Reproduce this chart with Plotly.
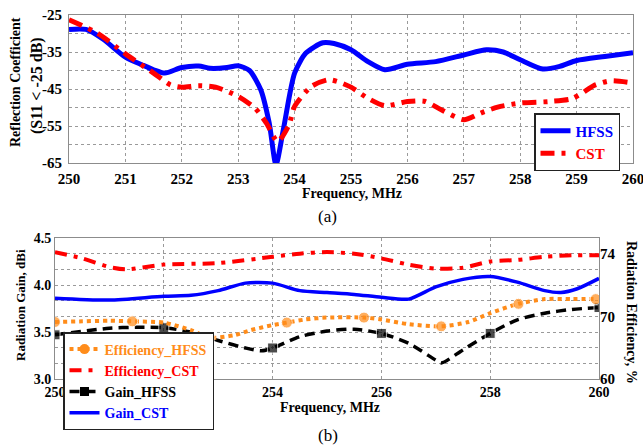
import numpy as np
import plotly.graph_objects as go

# ---------------- data: (a) reflection coefficient ----------------
f_hfss = [250, 250.3, 250.6, 251, 251.3, 251.5, 251.7, 252, 252.3, 252.5, 252.8, 253, 253.2,
          253.4, 253.55, 253.67, 253.8, 254, 254.2, 254.5, 254.7, 255, 255.3, 255.6, 256,
          256.5, 257, 257.4, 257.7, 258, 258.4, 258.7, 259, 259.5, 260]
s11_hfss = [-28.9, -28.9, -31.5, -36.4, -38.5, -39.8, -40.7, -39.2, -38.8, -39.4, -39.2, -38.7, -40.0,
            -45.2, -54.2, -65.4, -56.0, -40.7, -35.3, -32.5, -32.7, -34.4, -37.6, -39.8, -38.3,
            -37.6, -35.8, -34.4, -35.0, -37.1, -39.6, -38.9, -37.3, -36.2, -35.2]

f_cst = [250, 250.5, 251, 251.5, 251.8, 252, 252.3, 252.6, 253, 253.3, 253.5, 253.7, 253.9,
         254, 254.3, 254.6, 254.8, 255, 255.3, 255.6, 256, 256.3, 256.6, 257, 257.3, 257.6,
         258, 258.5, 258.9, 259.1, 259.3, 259.6, 260]
s11_cst = [-26.3, -29.9, -35.5, -40.7, -43.9, -44.5, -44.1, -44.5, -47.0, -50.2, -54.2, -59.2, -54.7,
           -49.7, -44.3, -42.5, -43.2, -44.5, -47.5, -49.5, -48.4, -48.3, -50.6, -53.3, -51.5, -49.9,
           -48.8, -48.4, -47.7, -46.1, -44.1, -42.8, -43.4]

# ---------------- data: (b) gain and efficiency ----------------
f_gain_cst = [250, 251, 252, 252.5, 253, 253.5, 254, 254.5, 255, 255.5, 256, 256.5, 257, 257.5,
              258, 258.5, 259, 259.3, 259.6, 260]
gain_cst = [3.86, 3.84, 3.88, 3.89, 3.94, 4.02, 4.02, 3.94, 3.92, 3.90, 3.87, 3.85, 3.98, 4.06,
            4.09, 4.03, 3.94, 3.92, 3.96, 4.07]

f_gain_hfss = [250, 251, 251.5, 252, 252.5, 253, 253.5, 253.8, 254, 254.5, 255, 255.5, 256,
               256.5, 257, 257.1, 257.5, 258, 258.5, 259, 259.5, 260]
gain_hfss = [3.47, 3.54, 3.55, 3.545, 3.50, 3.41, 3.33, 3.30, 3.33, 3.45, 3.51, 3.53, 3.485,
             3.38, 3.20, 3.17, 3.31, 3.485, 3.63, 3.70, 3.74, 3.76]
gain_hfss_markers = [250, 252, 254, 256, 258, 260]

f_eff_cst = [250, 250.5, 251, 251.3, 252, 253, 254, 254.5, 255, 255.5, 256, 256.5, 257, 257.5,
             258, 258.5, 259, 259.5, 260]
eff_cst = [74.1, 73.7, 73.15, 73.0, 73.3, 73.4, 73.8, 74.0, 74.1, 74.0, 73.7, 73.3, 73.05, 73.1,
           73.5, 73.6, 73.8, 73.9, 73.9]

f_eff_hfss = [250, 250.5, 251, 251.42, 252, 252.5, 252.84, 253.3, 253.6, 254, 254.26, 254.6, 255,
              255.68, 256, 256.5, 257.1, 257.6, 258, 258.52, 259, 259.5, 259.94]
eff_hfss = [69.1, 69.2, 69.3, 69.2, 69.0, 67.8, 66.6, 67.0, 67.8, 68.6, 69.0, 69.5, 69.8,
            69.8, 69.5, 68.75, 68.4, 69.1, 70.2, 70.8, 71.1, 71.1, 71.1]
eff_hfss_markers = [250, 251.42, 252.84, 254.26, 255.68, 257.1, 258.52, 259.94]

# right axis of (b) is piecewise linear: 60 -> 70 over 4 grid steps, 70 -> 74 over 4 grid steps
eff_ticks = [60, 70, 74, 75]
eff_grid = [0, 4, 8, 9]


def eff_pos(v):
    return np.interp(v, eff_ticks, eff_grid)


BLUE = "#0000FF"
RED = "#FF0000"
ORANGE = "#FF8C1A"
BLACK = "#000000"
FONT = "Liberation Serif"
GRID = "#9a9a9a"
FRAME = "#8c8c8c"

fig = go.Figure()

# ---- (a)
fig.add_trace(go.Scatter(x=f_hfss, y=s11_hfss, mode="lines", name="HFSS",
                         line=dict(color=BLUE, width=5, shape="spline", smoothing=0.7),
                         xaxis="x", yaxis="y", legend="legend"))
fig.add_trace(go.Scatter(x=f_cst, y=s11_cst, mode="lines", name="CST",
                         line=dict(color=RED, width=5, dash="14px,7px,4px,7px", shape="spline", smoothing=0.7),
                         xaxis="x", yaxis="y", legend="legend"))

# ---- (b)
eff_hfss_sizes = [11 if f in eff_hfss_markers else 0 for f in f_eff_hfss]
gain_hfss_sizes = [10 if f in gain_hfss_markers else 0 for f in f_gain_hfss]

fig.add_trace(go.Scatter(x=f_eff_hfss, y=eff_pos(eff_hfss), mode="lines+markers", showlegend=False,
                         line=dict(color=ORANGE, width=4, dash="dot", shape="spline", smoothing=0.7),
                         marker=dict(color=ORANGE, size=eff_hfss_sizes, symbol="circle"),
                         xaxis="x2", yaxis="y3"))
fig.add_trace(go.Scatter(x=[None], y=[None], mode="lines+markers", name="Efficiency_HFSS",
                         line=dict(color=ORANGE, width=4, dash="dot"),
                         marker=dict(color=ORANGE, size=10), xaxis="x2", yaxis="y3", legend="legend2"))
fig.add_trace(go.Scatter(x=f_eff_cst, y=eff_pos(eff_cst), mode="lines", name="Efficiency_CST",
                         line=dict(color=RED, width=4, dash="12px,7px,4px,7px", shape="spline", smoothing=0.7),
                         xaxis="x2", yaxis="y3", legend="legend2"))
fig.add_trace(go.Scatter(x=f_gain_hfss, y=gain_hfss, mode="lines+markers", showlegend=False,
                         line=dict(color=BLACK, width=3.5, dash="10px,6px", shape="spline", smoothing=0.7),
                         marker=dict(color=BLACK, size=gain_hfss_sizes, symbol="square"),
                         xaxis="x2", yaxis="y2"))
fig.add_trace(go.Scatter(x=[None], y=[None], mode="lines+markers", name="Gain_HFSS",
                         line=dict(color=BLACK, width=3.5, dash="10px,6px"),
                         marker=dict(color=BLACK, size=9, symbol="square"),
                         xaxis="x2", yaxis="y2", legend="legend2"))
fig.add_trace(go.Scatter(x=f_gain_cst, y=gain_cst, mode="lines", name="Gain_CST",
                         line=dict(color=BLUE, width=3.5, shape="spline", smoothing=0.7),
                         xaxis="x2", yaxis="y2", legend="legend2"))

W, H = 643, 446


def px_x(p):
    return p / W


def px_y(p):
    return 1 - p / H


tickfont = dict(family=FONT, size=15, color="black", weight="bold")
axis_common = dict(showline=True, linecolor=FRAME, linewidth=1, mirror=True, ticks="",
                   gridcolor=GRID, griddash="dot", gridwidth=1, zeroline=False, tickfont=tickfont,
                   ticklabeloverflow="allow")

s11_ticks = [-25, -30, -35, -40, -45, -50, -55, -60, -65]
s11_labels = ["-25", "", "-35", "", "-45", "", "-55", "", "-65"]
freq_ticks_a = [250, 251, 252, 253, 254, 255, 256, 257, 258, 259, 260]
freq_ticks_b = [250, 252, 254, 256, 258, 260]
freq_labels_b = ["250", "", "254", "256", "258", "260"]   # 252 sits under the legend
gain_ticks = [3.0, 3.5, 4.0, 4.5]
gain_labels = ["3.0", "3.5", "4.0", "4.5"]
eff_grid_vals = [0, 1, 2, 3, 4, 5, 6, 7, 8, 9]
eff_grid_labels = ["60", "", "", "", "70", "", "", "", "74", ""]

fig.update_layout(
    width=W, height=H, margin=dict(l=0, r=0, t=0, b=0, autoexpand=False),
    paper_bgcolor="white", plot_bgcolor="white",
    xaxis=dict(axis_common, domain=[px_x(69), px_x(633)], range=[250, 260],
               tickvals=freq_ticks_a, anchor="y", ticklabelstandoff=2),
    yaxis=dict(axis_common, domain=[px_y(163), px_y(15)], range=[-65, -25],
               tickvals=s11_ticks, ticktext=s11_labels, anchor="x", ticklabelstandoff=3),
    xaxis2=dict(axis_common, domain=[px_x(55), px_x(599)], range=[250, 260],
                tickvals=freq_ticks_b, ticktext=freq_labels_b, anchor="y2",
                tickfont=dict(tickfont, size=14)),
    yaxis2=dict(axis_common, domain=[px_y(379), px_y(238)], range=[3.0, 4.5],
                tickvals=gain_ticks, ticktext=gain_labels, showgrid=False, anchor="x2",
                tickfont=dict(tickfont, size=14)),
    yaxis3=dict(axis_common, range=[0, 9], overlaying="y2", side="right", anchor="x2",
                tickvals=eff_grid_vals, ticktext=eff_grid_labels, showline=False,
                tickfont=dict(tickfont, size=15)),
    legend=dict(x=px_x(534), y=px_y(113), xanchor="left", yanchor="top",
                bgcolor="white", bordercolor="#222222", borderwidth=1.5,
                font=dict(family=FONT, size=15, weight="bold"), itemwidth=30,
                tracegroupgap=0),
    legend2=dict(x=px_x(63), y=px_y(332), xanchor="left", yanchor="top",
                 bgcolor="white", bordercolor="#222222", borderwidth=1.5,
                 font=dict(family=FONT, size=14, weight="bold"), itemwidth=30,
                 tracegroupgap=0),
    showlegend=True,
)

# colour the legend text per series
fig.data[0].name = f"<span style='color:{BLUE}'>HFSS</span>"
fig.data[1].name = f"<span style='color:{RED}'>CST</span>"
fig.data[3].name = f"<span style='color:{ORANGE}'>Efficiency_HFSS</span>"
fig.data[4].name = f"<span style='color:{RED}'>Efficiency_CST</span>"
fig.data[6].name = f"<span style='color:{BLACK}'>Gain_HFSS</span>"
fig.data[7].name = f"<span style='color:{BLUE}'>Gain_CST</span>"

bold = dict(family=FONT, color="black", weight="bold")
ann = [
    dict(text="Reflection Coefficient", x=px_x(16), y=px_y(82), textangle=-90, font=dict(bold, size=14)),
    dict(text="(S11 &lt; -25 dB)", x=px_x(37), y=px_y(86), textangle=-90, font=dict(bold, size=16)),
    dict(text="Frequency, MHz", x=px_x(352), y=px_y(193), font=dict(bold, size=14)),
    dict(text="(a)", x=px_x(327), y=px_y(216), font=dict(family=FONT, color="black", size=17)),
    dict(text="Radiation Gain, dBi", x=px_x(20), y=px_y(305), textangle=-90, font=dict(bold, size=13)),
    dict(text="Radiation Efficiency, %", x=px_x(632), y=px_y(312), textangle=90, font=dict(bold, size=14)),
    dict(text="Frequency, MHz", x=px_x(330), y=px_y(407), font=dict(bold, size=14)),
    dict(text="(b)", x=px_x(328), y=px_y(435), font=dict(family=FONT, color="black", size=17)),
]
for a in ann:
    a.update(xref="paper", yref="paper", showarrow=False, xanchor="center", yanchor="middle")
fig.update_layout(annotations=ann)

fig.write_html("out.html", config={"displayModeBar": False},
               post_script="document.body.style.margin='0';document.body.style.overflow='hidden';")
